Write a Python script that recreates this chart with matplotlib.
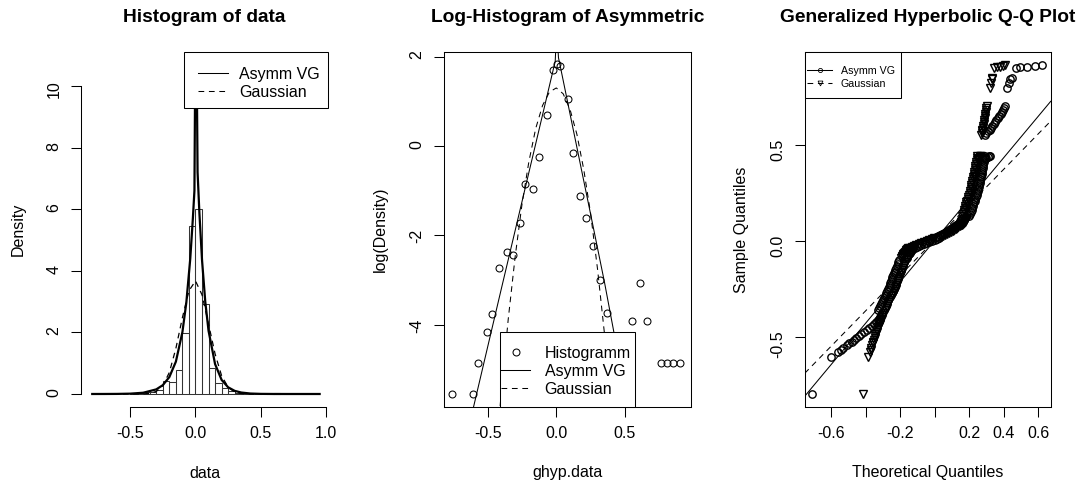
import matplotlib.pyplot as plt
from matplotlib.lines import Line2D
import numpy as np

plt.rcParams['font.family'] = ['Liberation Sans', 'DejaVu Sans']

## panel 1: histogram (density scale) with fitted densities
HIST_EDGES = [-0.50, -0.45, -0.40, -0.35, -0.30, -0.25, -0.20, -0.15, -0.10, -0.05, 0.00,
              0.05, 0.10, 0.15, 0.20, 0.25, 0.30, 0.35, 0.40, 0.45, 0.50, 0.55, 0.60, 0.65]
HIST_DENS = [0.03, 0.03, 0.07, 0.08, 0.14, 0.43, 0.38, 0.78, 1.98, 5.44, 6.02,
             2.93, 0.86, 0.36, 0.18, 0.09, 0.04, 0.04, 0.0, 0.0, 0.0, 0.0, 0.04]

VG_X = [-0.79, -0.70, -0.60, -0.50, -0.40, -0.30, -0.25, -0.20, -0.15, -0.10, -0.07, -0.04,
        -0.02, -0.008, 0.003, 0.016, 0.03, 0.05, 0.075, 0.10, 0.15, 0.20, 0.25, 0.30, 0.35,
        0.42, 0.50, 0.60, 0.70, 0.95]
VG_DENS = [0.00026, 0.00083, 0.0030, 0.0111, 0.041, 0.150, 0.287, 0.55, 1.05, 2.01, 2.97, 4.39,
           5.70, 6.6, 14.0, 7.2, 5.87, 4.35, 2.99, 2.05, 0.97, 0.458, 0.217, 0.102, 0.048,
           0.0153, 0.0041, 0.0009, 0.00018, 0.0000037]

GAUSS_X = [-0.79, -0.60, -0.45, -0.40, -0.35, -0.30, -0.25, -0.20, -0.15, -0.10, -0.05, 0.00,
           0.05, 0.10, 0.15, 0.20, 0.25, 0.30, 0.35, 0.40, 0.45, 0.60, 0.95]
GAUSS_DENS = [1e-11, 7e-7, 0.00067, 0.0041, 0.0207, 0.083, 0.27, 0.70, 1.48, 2.48, 3.35, 3.67,
              3.22, 2.27, 1.30, 0.59, 0.22, 0.064, 0.0153, 0.0029, 0.00045, 4.5e-7, 1e-16]

## panel 2: log-histogram points
LOGH_X = [-0.757, -0.609, -0.568, -0.507, -0.466, -0.415, -0.361, -0.313, -0.262, -0.226,
          -0.170, -0.124, -0.070, -0.022, 0.005, 0.028, 0.083, 0.119, 0.175, 0.216, 0.267,
          0.320, 0.367, 0.553, 0.610, 0.658, 0.760, 0.804, 0.848, 0.901]
LOGH_Y = [-5.555, -5.555, -4.87, -4.17, -3.77, -2.73, -2.37, -2.44, -1.72, -0.85,
          -0.96, -0.25, 0.69, 1.70, 1.83, 1.80, 1.05, -0.16, -1.12, -1.62, -2.24,
          -3.00, -3.74, -3.93, -3.06, -3.93, -4.87, -4.87, -4.87, -4.87]

## panel 3: Q-Q plot (sample quantiles vs theoretical quantiles)
QQ_SAMPLE_LOW = [-0.80, -0.607, -0.577, -0.568, -0.556, -0.545, -0.535, -0.525, -0.515, -0.505,
                 -0.495, -0.485, -0.475, -0.465, -0.455, -0.445, -0.435, -0.425, -0.415, -0.405,
                 -0.395, -0.385, -0.375]
QQ_VG_LOW = [-0.71, -0.603, -0.559, -0.545, -0.53, -0.51, -0.495, -0.48, -0.468, -0.455,
             -0.44, -0.425, -0.41, -0.395, -0.38, -0.365, -0.352, -0.34, -0.33, -0.322,
             -0.316, -0.31, -0.305]
QQ_GAUSS_LOW = [-0.414, -0.387, -0.376, -0.372, -0.368, -0.364, -0.36, -0.356, -0.352, -0.348,
                -0.344, -0.34, -0.336, -0.332, -0.328, -0.324, -0.32, -0.316, -0.312, -0.308,
                -0.304, -0.30, -0.296]

QQ_SAMPLE_MID = [-0.36, -0.35, -0.34, -0.33, -0.32, -0.31, -0.30, -0.29, -0.28, -0.27, -0.26,
                 -0.25, -0.24, -0.23, -0.22, -0.21, -0.20, -0.19, -0.18, -0.17, -0.16, -0.15,
                 -0.14, -0.13, -0.12, -0.11, -0.10, -0.09, -0.08, -0.07, -0.06, -0.05, -0.04,
                 -0.03, -0.02, -0.01, 0.00, 0.01, 0.02, 0.03, 0.04, 0.05, 0.06, 0.07, 0.08,
                 0.09, 0.10, 0.11, 0.12, 0.13, 0.14, 0.15, 0.16, 0.17, 0.18, 0.19, 0.20, 0.21,
                 0.22, 0.23, 0.24, 0.25, 0.26, 0.27, 0.28, 0.29, 0.30, 0.31, 0.32, 0.33, 0.34,
                 0.35, 0.36, 0.37, 0.38, 0.39, 0.40, 0.41, 0.42, 0.43, 0.44]
QQ_VG_MID = [-0.327, -0.323, -0.318, -0.313, -0.307, -0.302, -0.296, -0.291, -0.285, -0.280,
             -0.274, -0.270, -0.266, -0.262, -0.258, -0.254, -0.250, -0.246, -0.242, -0.238,
             -0.233, -0.229, -0.225, -0.220, -0.215, -0.210, -0.205,
             -0.163, -0.158, -0.151, -0.142, -0.134, -0.126, -0.103, -0.078, -0.049, -0.017, 0.015,
             0.008, 0.031, 0.054, 0.074, 0.091, 0.108, 0.122, 0.133, 0.145, 0.151, 0.157,
             0.200, 0.206, 0.212, 0.215, 0.218, 0.221, 0.224, 0.227, 0.231, 0.235, 0.239, 0.243,
             0.247, 0.250, 0.252, 0.255, 0.257, 0.260, 0.262, 0.265, 0.267, 0.270, 0.272, 0.274,
             0.276, 0.278, 0.280, 0.282, 0.285, 0.287, 0.290, 0.292]
QQ_GAUSS_MID = [-0.283, -0.279, -0.274, -0.269, -0.263, -0.258, -0.252, -0.247, -0.241, -0.236,
                -0.230, -0.226, -0.222, -0.218, -0.214, -0.210, -0.206, -0.202, -0.198, -0.194,
                -0.189, -0.185, -0.181, -0.176, -0.171, -0.166, -0.161,
                -0.193, -0.188, -0.181, -0.172, -0.164, -0.156, -0.133, -0.108, -0.079, -0.047,
                -0.015,
                0.038, 0.061, 0.084, 0.104, 0.121, 0.138, 0.152, 0.163, 0.175, 0.181, 0.187,
                0.156, 0.162, 0.168, 0.171, 0.174, 0.177, 0.180, 0.183, 0.187, 0.191, 0.195,
                0.199, 0.203, 0.206, 0.208, 0.211, 0.213, 0.216, 0.218, 0.221, 0.223, 0.226,
                0.228, 0.230, 0.232, 0.234, 0.236, 0.238, 0.241, 0.243, 0.246, 0.248]

# extra sample values in the dense, flat centre of the distribution
QQ_SAMPLE_FLAT = [-0.085, -0.075, -0.065, -0.055, -0.045, -0.035, -0.025, -0.015, -0.005, 0.005,
                  0.015, 0.025, 0.035, 0.045, 0.055, 0.065, 0.075, 0.085, 0.095, 0.105, 0.115]
QQ_VG_FLAT = [-0.160, -0.154, -0.146, -0.138, -0.130, -0.114, -0.090, -0.063, -0.033, -0.001,
              0.026, 0.020, 0.043, 0.064, 0.083, 0.100, 0.115, 0.128, 0.139, 0.148, 0.154]
QQ_GAUSS_FLAT = [-0.190, -0.184, -0.176, -0.168, -0.160, -0.144, -0.120, -0.093, -0.063, -0.031,
                 -0.004, 0.049, 0.072, 0.094, 0.112, 0.129, 0.145, 0.157, 0.169, 0.178, 0.184]

QQ_SAMPLE_HIGH = [0.425, 0.43, 0.435, 0.44, 0.44,
                  0.55, 0.56, 0.57, 0.58, 0.59, 0.60, 0.61, 0.62, 0.63, 0.64, 0.65, 0.66,
                  0.67, 0.68, 0.69, 0.70,
                  0.797, 0.82, 0.845, 0.85, 0.902, 0.905, 0.908, 0.913, 0.918]
QQ_VG_HIGH = [0.29, 0.30, 0.31, 0.315, 0.32,
              0.29, 0.30, 0.31, 0.318, 0.326, 0.334, 0.342, 0.35, 0.358, 0.366, 0.374,
              0.382, 0.39, 0.397, 0.404, 0.41,
              0.421, 0.43, 0.437, 0.447, 0.472, 0.495, 0.537, 0.58, 0.624]
QQ_GAUSS_HIGH = [0.25, 0.255, 0.26, 0.265, 0.27,
                 0.27, 0.272, 0.275, 0.277, 0.28, 0.282, 0.284, 0.286, 0.288, 0.29, 0.292,
                 0.294, 0.296, 0.298, 0.30, 0.302,
                 0.322, 0.326, 0.330, 0.334, 0.345, 0.36, 0.379, 0.395, 0.410]

# qq reference lines (intercept, slope)
QQLINE_VG = (0.002, 1.077)
QQLINE_GAUSS = (0.004, 0.921)

W, H = 1087, 488
fig = plt.figure(figsize=(W / 100, H / 100), dpi=100)
FS = 11.5


def panel(x0, x1):
    return fig.add_axes([x0 / W, (H - 407) / H, (x1 - x0) / W, 355 / H])


def r_style(ax, title, xlabel, ylabel):
    ax.set_title(title, fontsize=13.8, fontweight='bold', y=(407 - 18) / 355, va='center', pad=0)
    ax.set_xlabel(xlabel, fontsize=FS, va='center')
    ax.set_ylabel(ylabel, fontsize=FS, va='center')
    ax.xaxis.set_label_coords(0.5, -66 / 355)
    ax.yaxis.set_label_coords(-63 / 247, 0.5)
    ax.tick_params(direction='out', length=7.2, width=0.75, labelsize=FS)
    ax.tick_params(axis='x', pad=6.5)
    ax.tick_params(axis='y', labelrotation=90, pad=7)
    for s in ax.spines.values():
        s.set_linewidth(0.75)


def r_legend(ax, handles, labels, box, anchor, fontsize, **kw):
    # box = (left, right, top, bottom) in figure pixels, anchor = top-left of contents
    x0, x1, y0, y1 = box
    ax.add_patch(plt.Rectangle((x0 / W, (H - y1) / H), (x1 - x0) / W, (y1 - y0) / H,
                               transform=fig.transFigure, facecolor='white', edgecolor='k',
                               lw=0.75, zorder=4.5, clip_on=False))
    ax.legend(handles, labels, loc='upper left', frameon=False, borderpad=0, borderaxespad=0,
              bbox_to_anchor=(anchor[0] / W, (H - anchor[1]) / H),
              bbox_transform=fig.transFigure, fontsize=fontsize, **kw)


DASH = (0, (5.5, 4.5))
solid_h = Line2D([], [], color='k', lw=0.75)
dash_h = Line2D([], [], color='k', lw=0.75, ls=DASH)

# ---- panel 1
ax1 = panel(81, 328)
ax1.bar(HIST_EDGES[:-1], HIST_DENS, width=np.diff(HIST_EDGES), align='edge',
        fill=False, edgecolor='#333333', lw=0.75)
ax1.plot(VG_X, VG_DENS, color='k', lw=1.6)
ax1.plot(GAUSS_X, GAUSS_DENS, color='k', lw=0.9, ls=(0, (4.5, 3.7)))
ax1.set_xlim(-0.876, 1.014)
ax1.set_ylim(-0.422, 11.1)
ax1.set_xticks([-0.5, 0.0, 0.5, 1.0], ['-0.5', '0.0', '0.5', '1.0'])
ax1.set_yticks([0, 2, 4, 6, 8, 10], ['0', '2', '4', '6', '8', '10'])
ax1.spines['top'].set_visible(False)
ax1.spines['right'].set_visible(False)
ax1.spines['left'].set_bounds(0, 10)
ax1.spines['bottom'].set_bounds(-0.5, 1.0)
r_style(ax1, 'Histogram of data', 'data', 'Density')
r_legend(ax1, [solid_h, dash_h], ['Asymm VG', 'Gaussian'], (183.7, 328, 52, 108.3),
         (198, 66.5), FS, handlelength=1.88, handletextpad=0.69, labelspacing=0.2)

# ---- panel 2
ax2 = panel(443.7, 691)
ax2.plot(LOGH_X, LOGH_Y, ls='none', marker='o', ms=5, mfc='none', mec='k', mew=0.75)
ax2.plot(VG_X, np.log(VG_DENS), color='k', lw=0.75)
ax2.plot(GAUSS_X, np.log(GAUSS_DENS), color='k', lw=0.75, ls=DASH)
ax2.set_xlim(-0.82, 0.981)
ax2.set_ylim(-5.845, 2.105)
ax2.set_xticks([-0.5, 0.0, 0.5], ['-0.5', '0.0', '0.5'])
ax2.set_yticks([-4, -2, 0, 2], ['-4', '-2', '0', '2'])
r_style(ax2, 'Log-Histogram of Asymmetric', 'ghyp.data', 'log(Density)')
circ_h = Line2D([], [], ls='none', marker='o', ms=5, mfc='none', mec='k', mew=0.75)
r_legend(ax2, [circ_h, solid_h, dash_h], ['Histogramm', 'Asymm VG', 'Gaussian'],
         (499.7, 634.7, 332, 407), (501.3, 346), FS,
         handlelength=1.81, handletextpad=0.9, labelspacing=0.18)

# ---- panel 3
ax3 = panel(804.7, 1050.7)
qq_sample = QQ_SAMPLE_LOW + QQ_SAMPLE_MID + QQ_SAMPLE_FLAT + QQ_SAMPLE_HIGH
qq_vg = QQ_VG_LOW + QQ_VG_MID + QQ_VG_FLAT + QQ_VG_HIGH
qq_gauss = QQ_GAUSS_LOW + QQ_GAUSS_MID + QQ_GAUSS_FLAT + QQ_GAUSS_HIGH
ax3.plot(qq_vg, qq_sample, ls='none', marker='o', ms=5.3, mfc='none', mec='k', mew=1.0)
ax3.plot(qq_gauss, qq_sample, ls='none', marker='v', ms=5.8, mfc='none', mec='k', mew=1.0)
ax3.axline((0, QQLINE_VG[0]), slope=QQLINE_VG[1], color='k', lw=0.75)
ax3.axline((0, QQLINE_GAUSS[0]), slope=QQLINE_GAUSS[1], color='k', lw=0.75, ls=DASH)
ax3.set_xlim(-0.754, 0.673)
ax3.set_ylim(-0.866, 0.984)
ax3.set_xticks([-0.6, -0.4, -0.2, 0.0, 0.2, 0.4, 0.6],
               ['-0.6', '', '-0.2', '', '0.2', '0.4', '0.6'])
ax3.set_yticks([-0.5, 0.0, 0.5], ['-0.5', '0.0', '0.5'])
r_style(ax3, 'Generalized Hyperbolic Q-Q Plot', 'Theoretical Quantiles', 'Sample Quantiles')
vg_h = Line2D([], [], color='k', lw=0.75, marker='o', ms=3, mfc='none', mew=0.6)
ga_h = Line2D([], [], color='k', lw=0.75, ls=DASH, marker='v', ms=3.5, mfc='none', mew=0.6)
r_legend(ax3, [vg_h, ga_h], ['Asymm VG', 'Gaussian'], (804.7, 901.3, 52.3, 98.3),
         (807.3, 65.5), 7.7, numpoints=1, handlelength=2.34, handletextpad=0.79,
         labelspacing=0.3)

fig.savefig('out.png', dpi=100)
